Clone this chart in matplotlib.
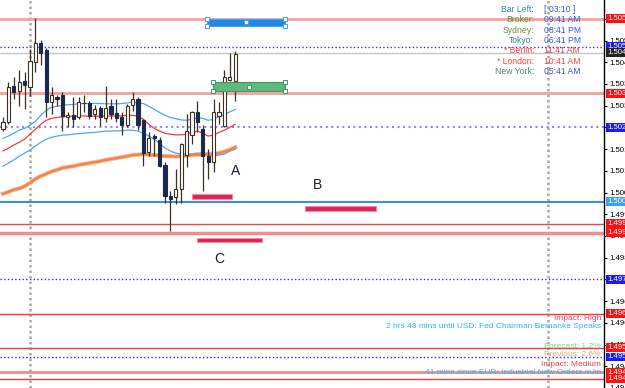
import matplotlib
matplotlib.use("Agg")
import matplotlib.pyplot as plt
import matplotlib.transforms as mtransforms
from matplotlib.patches import Rectangle
import numpy as np

plt.rcParams['font.family'] = ['Liberation Sans', 'DejaVu Sans']

# ---------------- data ----------------
opens  = [1.50234,1.50256,1.50372,1.50356,1.50388,1.50369,1.50452,1.50513,1.50490,1.50321,
          1.50337,1.50346,1.50272,1.50279,1.50272,1.50317,1.50317,1.50282,1.50304,1.50269,
          1.50308,1.50285,1.50272,1.50247,1.50311,1.50333,1.50263,1.50160,1.50212,1.50199,
          1.50119,1.50019,1.50016,1.50042,1.50151,1.50215,1.50288,1.50234,1.50147,1.50128,
          1.50276,1.50244,1.50394,1.50388]
highs  = [1.50272,1.50385,1.50401,1.50426,1.50420,1.50494,1.50593,1.50522,1.50497,1.50369,
          1.50346,1.50353,1.50288,1.50337,1.50337,1.50346,1.50324,1.50311,1.50308,1.50372,
          1.50333,1.50330,1.50288,1.50314,1.50353,1.50337,1.50266,1.50224,1.50218,1.50208,
          1.50128,1.50035,1.50106,1.50189,1.50282,1.50292,1.50324,1.50247,1.50170,1.50330,
          1.50321,1.50426,1.50481,1.50487]
lows   = [1.50228,1.50250,1.50330,1.50308,1.50298,1.50340,1.50420,1.50442,1.50272,1.50282,
          1.50308,1.50228,1.50240,1.50240,1.50266,1.50288,1.50266,1.50266,1.50244,1.50256,
          1.50266,1.50256,1.50215,1.50240,1.50292,1.50231,1.50115,1.50147,1.50147,1.50112,
          1.49997,1.49907,1.49994,1.49997,1.50112,1.50186,1.50224,1.50035,1.50074,1.50096,
          1.50250,1.50240,1.50388,1.50324]
closes = [1.50256,1.50369,1.50353,1.50385,1.50378,1.50455,1.50513,1.50481,1.50321,1.50346,
          1.50333,1.50276,1.50279,1.50266,1.50321,1.50319,1.50276,1.50298,1.50272,1.50304,
          1.50282,1.50269,1.50247,1.50308,1.50330,1.50247,1.50157,1.50205,1.50205,1.50115,
          1.50019,1.50010,1.50042,1.50186,1.50228,1.50288,1.50256,1.50147,1.50128,1.50288,
          1.50288,1.50401,1.50404,1.50478]

ma_slow = [1.50026,1.50032,1.50039,1.50043,1.50050,1.50061,1.50074,1.50083,1.50090,1.50098,
           1.50103,1.50109,1.50112,1.50115,1.50119,1.50122,1.50125,1.50128,1.50131,1.50135,
           1.50138,1.50141,1.50144,1.50147,1.50151,1.50152,1.50154,1.50152,1.50151,1.50149,
           1.50147,1.50147,1.50146,1.50147,1.50149,1.50151,1.50152,1.50152,1.50154,1.50155,
           1.50157,1.50162,1.50168,1.50176]
band_mid = [1.50164,1.50173,1.50183,1.50192,1.50202,1.50218,1.50234,1.50250,1.50263,1.50269,
            1.50272,1.50274,1.50276,1.50276,1.50277,1.50277,1.50276,1.50276,1.50276,1.50276,
            1.50277,1.50277,1.50277,1.50279,1.50279,1.50276,1.50266,1.50250,1.50237,1.50228,
            1.50221,1.50218,1.50216,1.50216,1.50218,1.50224,1.50228,1.50221,1.50212,1.50215,
            1.50224,1.50231,1.50240,1.50250]
band_up = [1.50205,1.50212,1.50221,1.50231,1.50237,1.50247,1.50260,1.50279,1.50295,1.50305,
           1.50308,1.50311,1.50313,1.50314,1.50316,1.50317,1.50317,1.50317,1.50317,1.50316,
           1.50316,1.50316,1.50317,1.50319,1.50321,1.50319,1.50317,1.50308,1.50298,1.50288,
           1.50279,1.50272,1.50268,1.50264,1.50263,1.50266,1.50271,1.50269,1.50263,1.50266,
           1.50276,1.50282,1.50290,1.50298]
band_low = [1.50115,1.50125,1.50135,1.50147,1.50157,1.50167,1.50180,1.50192,1.50202,1.50208,
            1.50212,1.50215,1.50216,1.50218,1.50220,1.50221,1.50223,1.50224,1.50226,1.50228,
            1.50228,1.50229,1.50229,1.50231,1.50231,1.50228,1.50221,1.50212,1.50202,1.50189,
            1.50173,1.50164,1.50157,1.50154,1.50154,1.50154,1.50157,1.50157,1.50151,1.50147,
            1.50151,1.50154,1.50164,1.50170]

# horizontal levels: price, colour, width, style, label-box colour
level_prices = [1.5059, 1.5050, 1.5048, 1.5035, 1.5024, 1.5000, 1.4993, 1.4990,
                1.4975, 1.4964, 1.4953, 1.4950, 1.4945, 1.4943]
level_colors = ['#f4a0a0', '#3030e0', '#c4c4c4', '#f4a0a0', '#8c8cf0', '#3a90e0', '#e84a4a', '#f08c8c',
                '#3030d0', '#ee3a3a', '#ee3a3a', '#3030d0', '#f08c8c', '#ee3a3a']
level_widths = [2, 1, 1, 2, 1.5, 1.5, 1, 2.5, 1, 1, 1, 1, 2, 1]
level_styles = ['-', ':', '-', '-', ':', '-', '-', '-', ':', '-', '-', ':', '-', '-']
box_colors = ['#ff1010', '#1a1aff', '#222222', '#ff1010', '#1a1aff', '#3da0f0', '#ff1010', '#ff1010',
              '#1a1aff', '#ff1010', '#ff1010', '#1a1aff', '#ff1010', '#ff1010']
box_labels = ['1.5059', '1.5050', '1.5048', '1.5035', '1.5024', '1.5000', '1.4993', '1.4990',
              '1.4975', '1.4964', '1.4953', '1.4950', '1.4945', '1.4943']

tick_values = [round(1.4940 + 0.0007 * k, 4) for k in range(18)]
tick_labels = ['%.4f' % v for v in tick_values]

separators = [5, 101]

# drawn objects (bar index range, price range)
obj_names = ['blue', 'green', 'A', 'B', 'C']
obj_x0 = [37.8, 38.9, 35.0, 55.9, 35.9]
obj_x1 = [52.2, 52.2, 42.4, 69.1, 48.0]
obj_p0 = [1.50567, 1.50356, 1.50010, 1.49971, 1.49869]
obj_p1 = [1.50590, 1.50385, 1.50026, 1.49987, 1.49885]

letters = ['A', 'B', 'C']
letter_x = [43.1, 58.3, 40.0]
letter_p = [1.50099, 1.50054, 1.49817]

clock_names = ['Bar Left:', 'Broker:', 'Sydney:', 'Tokyo:', '* Berlin:', '* London:', 'New York:']
clock_values = ['[ 03:10 ]', '09:41 AM', '08:41 PM', '06:41 PM', '11:41 AM', '10:41 AM', '05:41 AM']
clock_name_colors = ['#3a7f9a', '#6d8f3a', '#6d8f3a', '#3a7f9a', '#ee4444', '#ee4444', '#4a8a7a']
clock_value_colors = ['#3a5ad0', '#3a5ad0', '#3a5ad0', '#3a5ad0', '#ee4444', '#ee4444', '#3a5ad0']

news_lines = ['Impact: High', '2 hrs 48 mins until USD: Fed Chairman Bernanke Speaks',
              'Forecast: 1.2%', 'Previous: 2.6%', 'Impact: Medium',
              '41 mins since EUR: Industrial New Orders m/m']
news_colors = ['#e8405e', '#33b2ee', '#88cc88', '#e2a878', '#e04050', '#33b2ee']

# ---------------- figure ----------------
W, H = 625, 388
fig = plt.figure(figsize=(W / 100, H / 100), dpi=100)
fig.patch.set_facecolor('white')
ax = fig.add_axes([0, 0, 604 / W, 1])
ax.set_xlim(-0.556, 111.3)
ax.set_ylim(1.494071, 1.506506)
for s in ['top', 'left', 'bottom']:
    ax.spines[s].set_visible(False)
ax.spines['right'].set_color('black')
ax.spines['right'].set_linewidth(1)
ax.set_xticks([])
ax.yaxis.tick_right()
ax.set_yticks(tick_values)
ax.set_yticklabels(tick_labels)
ax.tick_params(axis='y', direction='out', length=2.5, width=0.8, pad=1.5, labelsize=5.6, colors='black')

# separators
for s in separators:
    ax.axvline(s, color='#a8a8a8', lw=1.8, ls=(0, (1, 1.2)), zorder=1)

# levels
for p, c, w, st in zip(level_prices, level_colors, level_widths, level_styles):
    ax.axhline(p, color=c, lw=w, ls=st, zorder=1.5)

idx = np.arange(len(opens))
# indicators
ax.plot(idx, ma_slow, color='#fbb892', lw=3.0, zorder=2)
ax.plot(idx, ma_slow, color='#f5844a', lw=1.8, zorder=2.1)
ax.plot(idx, band_up, color='#4aa8f0', lw=0.9, zorder=2)
ax.plot(idx, band_low, color='#4aa8f0', lw=0.9, zorder=2)
ax.plot(idx, band_mid, color='#f03a3a', lw=0.9, zorder=2)

# candles
o = np.array(opens); c = np.array(closes)
up = c >= o
ax.vlines(idx, lows, highs, color='#3c3020', lw=0.9, zorder=3)
bottoms = np.minimum(o, c)
heights = np.maximum(np.abs(c - o), 0.00003)
ax.bar(idx[up], heights[up], bottom=bottoms[up], width=0.62, color='white',
       edgecolor='#3c3020', linewidth=0.8, zorder=4)
ax.bar(idx[~up], heights[~up], bottom=bottoms[~up], width=0.62, color='#1b2a48',
       edgecolor='#1b2a48', linewidth=0.8, zorder=4)

# objects
obj_fc = {'blue': '#1e88e5', 'green': '#5fb880', 'A': '#dc2358', 'B': '#dc2358', 'C': '#dc2358'}
obj_ec = {'blue': '#4aa0f0', 'green': '#3c9a60', 'A': '#f08ca0', 'B': '#f08ca0', 'C': '#f08ca0'}
for n, x0, x1, p0, p1 in zip(obj_names, obj_x0, obj_x1, obj_p0, obj_p1):
    r = Rectangle((x0, p0), x1 - x0, p1 - p0, facecolor=obj_fc[n], edgecolor=obj_ec[n],
                  lw=0.8, zorder=5)
    ax.add_patch(r)
    if n in ('blue', 'green'):
        hx = [x0, x0, x1, x1, (x0 + x1) / 2]
        hy = [p0, p1, p0, p1, (p0 + p1) / 2]
        ax.scatter(hx, hy, s=8, marker='s', facecolor='white', edgecolor=obj_ec[n],
                   linewidths=0.7, zorder=6)

for t, x, p in zip(letters, letter_x, letter_p):
    ax.text(x, p, t, fontsize=10, color='#1a1a3a', ha='center', va='center', zorder=6)

# price boxes on right
trans = mtransforms.blended_transform_factory(ax.transAxes, ax.transData)
for p, col, lab in zip(level_prices, box_colors, box_labels):
    ax.text(1 + 3 / 604, p, lab, transform=trans, fontsize=5.6, color='white',
            ha='left', va='center', clip_on=False, zorder=10,
            bbox=dict(boxstyle='square,pad=0.12', fc=col, ec='none'))

# clocks
rows_y = [9.3, 19.8, 30.3, 40.6, 50.8, 61.0, 71.0]
for y, nm, val, c1, c2 in zip(rows_y, clock_names, clock_values, clock_name_colors, clock_value_colors):
    fig.text(534 / W, 1 - y / H, nm, fontsize=6.2, color=c1, ha='right', va='center')
    fig.text(544 / W, 1 - y / H, val, fontsize=6.2, color=c2, ha='left', va='center')

news_y = [318.3, 326.7, 346.0, 354.3, 364.3, 372.7]
for y, t, col in zip(news_y, news_lines, news_colors):
    fig.text(601 / W, 1 - y / H, t, fontsize=6.0, color=col, ha='right', va='center')

fig.savefig('out.png', dpi=100)
